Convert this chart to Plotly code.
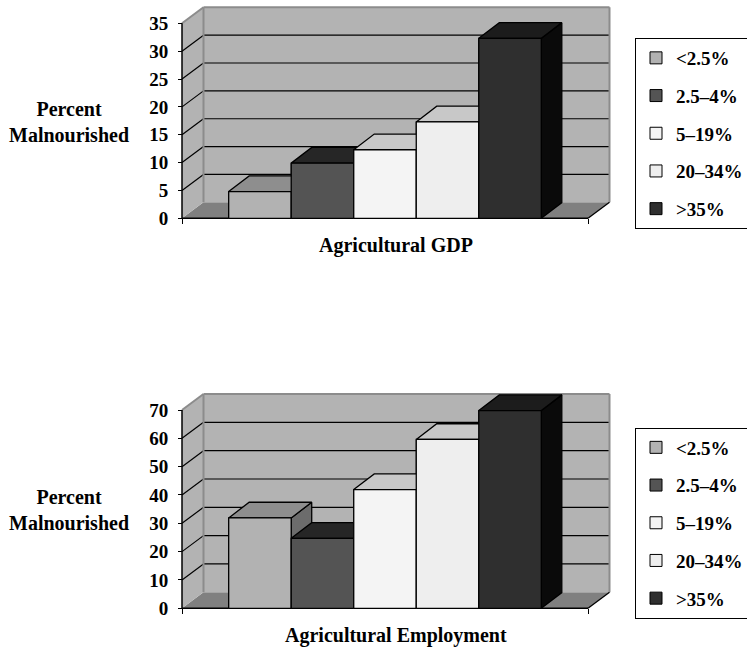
import plotly.graph_objects as go

FIG_W, FIG_H = 747, 648

# ---- data -------------------------------------------------------------
series_names = ["<2.5%", "2.5–4%", "5–19%", "20–34%", ">35%"]
gdp_values = [4.8, 9.9, 12.3, 17.3, 32.3]
employment_values = [31.9, 24.7, 41.9, 59.6, 69.8]
gdp_ticks = [0, 5, 10, 15, 20, 25, 30, 35]
employment_ticks = [0, 10, 20, 30, 40, 50, 60, 70]
panel_titles = ["Agricultural GDP", "Agricultural Employment"]
y_label = "Percent<br>Malnourished"

# ---- style ------------------------------------------------------------
front_colors = ["#b2b2b2", "#545454", "#f4f4f4", "#eeeeee", "#2f2f2f"]
top_colors = ["#8e8e8e", "#262626", "#c8c8c8", "#c8c8c8", "#1c1c1c"]
side_colors = ["#6c6c6c", "#1a1a1a", "#a8a8a8", "#a8a8a8", "#0a0a0a"]
WALL_COLOR = "#b3b3b3"
FLOOR_COLOR = "#808080"
WALL_EDGE = "#8c8c8c"
SERIF = "Liberation Serif"
FONT = dict(family=SERIF, size=19, color="black", weight="bold")
TITLE_FONT = dict(family=SERIF, size=20, color="black", weight="bold")

# pixel layout of the pseudo-3D frame
FRONT_LEFT_PX, FRONT_RIGHT_PX = 182.0, 588.0
WALL_DX_PX, WALL_DY_PX = 21.5, 16.0
BAR_DX_PX, BAR_DY_PX = 20.5, 15.7
PAD_PX = 2.0
BAR_GAP = 0.23

panels = [
    dict(values=gdp_values, ticks=gdp_ticks, title=panel_titles[0],
         zero_px=218.3, top_px=23.3, ax="", legend="legend",
         legend_top_px=38.0, title_px=245.0, label_px=121.5),
    dict(values=employment_values, ticks=employment_ticks, title=panel_titles[1],
         zero_px=608.3, top_px=410.0, ax="2", legend="legend2",
         legend_top_px=427.5, title_px=635.0, label_px=510.0),
]

fig = go.Figure()
shapes, annotations = [], []
layout_axes = {}

n = len(series_names)
bar_w = (1.0 - BAR_GAP) / n
bar_lefts = [-0.5 + BAR_GAP / 2 + i * bar_w for i in range(n)]


def poly(xs, ys, xref, yref, fill, line_color=None, width=0):
    path = "M" + " L".join(f"{x},{y}" for x, y in zip(xs, ys)) + " Z"
    return dict(type="path", path=path, xref=xref, yref=yref, layer="below",
                fillcolor=fill,
                line=dict(color=line_color or fill, width=width))


def seg(x0, y0, x1, y1, xref, yref, color="black", width=1.2):
    return dict(type="line", x0=x0, y0=y0, x1=x1, y1=y1, xref=xref, yref=yref,
                layer="below", line=dict(color=color, width=width))


for p in panels:
    xa, ya = "x" + p["ax"], "y" + p["ax"]
    ymax = p["ticks"][-1]
    x_pp = 1.0 / (FRONT_RIGHT_PX - FRONT_LEFT_PX)
    y_pp = ymax / (p["zero_px"] - p["top_px"])
    wdx, wdy = WALL_DX_PX * x_pp, WALL_DY_PX * y_pp
    bdx, bdy = BAR_DX_PX * x_pp, BAR_DY_PX * y_pp

    x_range = [-0.5 - PAD_PX * x_pp, 0.5 + wdx + PAD_PX * x_pp]
    y_range = [-PAD_PX * y_pp, ymax + wdy + PAD_PX * y_pp]
    x_dom = [(FRONT_LEFT_PX - PAD_PX) / FIG_W,
             (FRONT_RIGHT_PX + WALL_DX_PX + PAD_PX) / FIG_W]
    y_dom = [(FIG_H - p["zero_px"] - PAD_PX) / FIG_H,
             (FIG_H - p["top_px"] + WALL_DY_PX + PAD_PX) / FIG_H]

    layout_axes["xaxis" + p["ax"]] = dict(
        domain=x_dom, range=x_range, anchor="free",
        position=(FIG_H - p["zero_px"]) / FIG_H, automargin=False,
        showgrid=False, zeroline=False, showline=False,
        tickmode="array", tickvals=[-0.5, 0.5], showticklabels=False,
        ticks="outside", ticklen=5, tickwidth=1.3, tickcolor="black",
        fixedrange=True)
    layout_axes["yaxis" + p["ax"]] = dict(
        domain=y_dom, range=y_range, anchor="free",
        position=FRONT_LEFT_PX / FIG_W, automargin=False,
        showgrid=False, zeroline=False, showline=False,
        tickmode="array", tickvals=p["ticks"],
        ticktext=[str(t) for t in p["ticks"]],
        ticks="outside", ticklen=4, tickwidth=1.3, tickcolor="black",
        ticklabelstandoff=6, tickfont=FONT, fixedrange=True)

    # floor, side wall and back wall
    shapes.append(poly([-0.5, 0.5, 0.5 + wdx, -0.5 + wdx],
                       [0, 0, wdy, wdy], xa, ya, FLOOR_COLOR))
    shapes.append(poly([-0.5, -0.5, -0.5 + wdx, -0.5 + wdx],
                       [0, ymax, ymax + wdy, wdy], xa, ya, WALL_COLOR))
    shapes.append(poly([-0.5 + wdx, 0.5 + wdx, 0.5 + wdx, -0.5 + wdx],
                       [wdy, wdy, ymax + wdy, ymax + wdy], xa, ya, WALL_COLOR))
    # gridlines across the side wall and back wall
    for t in p["ticks"][1:-1]:
        shapes.append(seg(-0.5, t, -0.5 + wdx, t + wdy, xa, ya))
        shapes.append(seg(-0.5 + wdx, t + wdy, 0.5 + wdx, t + wdy, xa, ya))
    # wall outlines
    shapes.append(seg(-0.5, ymax, -0.5 + wdx, ymax + wdy, xa, ya, WALL_EDGE, 2))
    shapes.append(seg(-0.5 + wdx, ymax + wdy, 0.5 + wdx, ymax + wdy, xa, ya, WALL_EDGE, 2))
    shapes.append(seg(-0.5 + wdx, wdy, -0.5 + wdx, ymax + wdy, xa, ya, WALL_EDGE, 2))
    shapes.append(seg(0.5 + wdx, wdy, 0.5 + wdx, ymax + wdy, xa, ya, WALL_EDGE, 2))
    # front edges of the frame
    shapes.append(seg(0.5, 0, 0.5 + wdx, wdy, xa, ya, "black", 1.3))
    shapes.append(seg(-0.5, 0, 0.5, 0, xa, ya, "black", 1.5))
    shapes.append(seg(-0.5, 0, -0.5, ymax, xa, ya, "black", 1.5))

    # bars (front faces, also carrying the legend entries)
    for i, (name, v) in enumerate(zip(series_names, p["values"])):
        fig.add_trace(go.Bar(
            x=[0], y=[v], width=[bar_w], offset=[bar_lefts[i]],
            name=name, legend=p["legend"], legendgroup=p["legend"] + str(i),
            marker=dict(color=front_colors[i], line=dict(color="black", width=1)),
            xaxis=xa, yaxis=ya, hoverinfo="skip"))

    # 3D faces, painted left to right so nearer faces cover farther ones
    for i, v in enumerate(p["values"]):
        l = bar_lefts[i]
        r = l + bar_w
        faces = [
            ([r, r + bdx, r + bdx, r, r], [0, bdy, v + bdy, v, 0], side_colors[i]),
            ([l, r, r + bdx, l + bdx, l], [v, v, v + bdy, v + bdy, v], top_colors[i]),
            ([l, r, r, l, l], [0, 0, v, v, 0], front_colors[i]),
        ]
        for xs, ys, c in faces:
            fig.add_trace(go.Scatter(
                x=xs, y=ys, mode="lines", fill="toself", fillcolor=c,
                line=dict(color="black", width=1.3), xaxis=xa, yaxis=ya,
                showlegend=False, hoverinfo="skip"))

    annotations.append(dict(
        text=p["title"], xref="paper", yref="paper",
        x=(x_dom[0] + x_dom[1]) / 2, y=(FIG_H - p["title_px"]) / FIG_H,
        xanchor="center", yanchor="middle", showarrow=False, font=TITLE_FONT))
    annotations.append(dict(
        text=y_label, xref="paper", yref="paper",
        x=68.5 / FIG_W, y=(FIG_H - p["label_px"]) / FIG_H,
        xanchor="center", yanchor="middle", showarrow=False, font=TITLE_FONT))

legend_style = dict(
    x=635 / FIG_W, xanchor="left", yanchor="top",
    bgcolor="white", bordercolor="black", borderwidth=1,
    font=FONT, traceorder="grouped", tracegroupgap=10, itemwidth=30)

fig.update_layout(
    width=FIG_W, height=FIG_H,
    margin=dict(l=0, r=0, t=0, b=0, autoexpand=False),
    paper_bgcolor="white", plot_bgcolor="rgba(0,0,0,0)",
    barmode="overlay", showlegend=True,
    legend=dict(legend_style, y=1 - panels[0]["legend_top_px"] / FIG_H),
    legend2=dict(legend_style, y=1 - panels[1]["legend_top_px"] / FIG_H),
    shapes=shapes, annotations=annotations,
    **layout_axes)

fig.write_html("out.html")
